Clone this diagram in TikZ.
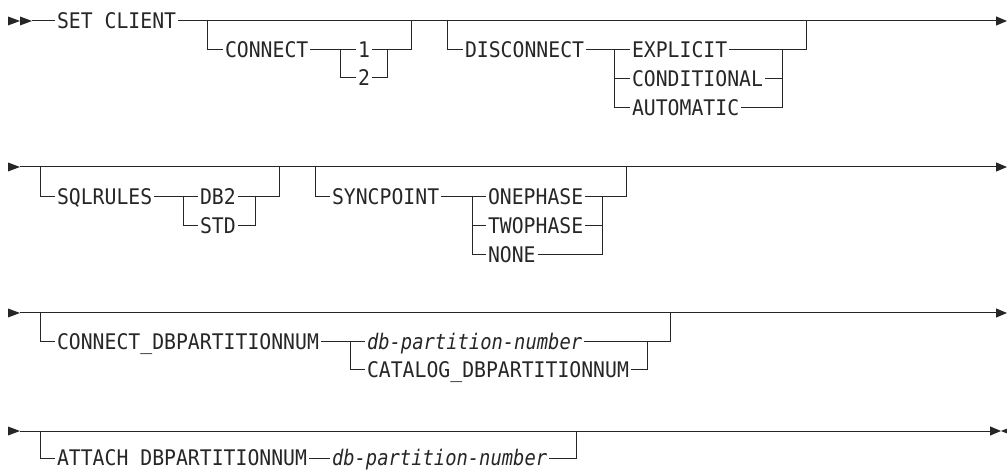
\documentclass[tikz,border=0pt]{standalone}
\usepackage{fontspec}
\usepackage{tikz}
\usetikzlibrary{arrows.meta, positioning, calc}
\newfontfamily\railfont[FakeStretch=0.92]{DejaVu Sans Mono}
\newfontfamily\railvarfont[FakeStretch=0.875]{DejaVu Sans Mono}
\definecolor{cRail}{RGB}{38,38,38}
\tikzset{
	rail/.style   ={draw=cRail, line width=1pt},
	railend/.style={rail, -{Triangle[length=11pt, width=9pt]}},
	kw/.style     ={anchor=west, inner xsep=2pt, inner ysep=0pt, outer sep=0pt, text height=15.7pt, text depth=0pt, text=cRail, font=\railfont\fontsize{21.5pt}{24pt}\selectfont},
	var/.style    ={kw, font=\railvarfont\itshape\fontsize{21.5pt}{24pt}\selectfont},
}

\begin{document}
\begin{tikzpicture}[x=1pt, y=-1pt]
	\useasboundingbox (0,0) rectangle (1007,470);

	% row 1: SET CLIENT, CONNECT, DISCONNECT
	\fill[cRail] (8,16.5) -- (20,21) -- (8,25.5) -- cycle;
	\fill[cRail] (20,16.5) -- (32,21) -- (20,25.5) -- cycle;
	\coordinate (s1) at (32,21);
	\coordinate (e1) at (1007,21);
	\node[kw] (setclient) at (55,21) {SET CLIENT};
	\draw[rail] (s1) -- (setclient.west);
	\draw[railend] (setclient.east) -- (e1);

	\coordinate (j1) at (207,21);
	\coordinate (j2) at (411,21);
	\coordinate (k1) at (340,50);
	\coordinate (k2) at (387,50);
	\node[kw] (connect) at (223,50) {CONNECT};
	\draw[rail] (j1) |- (connect.west);
	\draw[rail] (connect.east) -- (k1);
	\foreach \n/\lab/\yy in {one/1/50, two/2/78} {
		\node[kw] (\n) at (356,\yy) {\lab};
		\draw[rail] (k1) |- (\n.west);
		\draw[rail] (\n.east) -| (k2);
	}
	\draw[rail] (k2) -| (j2);

	\coordinate (j3) at (447,21);
	\coordinate (j4) at (806,21);
	\coordinate (k3) at (614,50);
	\coordinate (k4) at (782,50);
	\node[kw] (disconnect) at (463,50) {DISCONNECT};
	\draw[rail] (j3) |- (disconnect.west);
	\draw[rail] (disconnect.east) -- (k3);
	\foreach \n/\lab/\yy in {explicit/EXPLICIT/50, conditional/CONDITIONAL/79, automatic/AUTOMATIC/108} {
		\node[kw] (\n) at (630,\yy) {\lab};
		\draw[rail] (k3) |- (\n.west);
		\draw[rail] (\n.east) -| (k4);
	}
	\draw[rail] (k4) -| (j4);

	% row 2: SQLRULES, SYNCPOINT
	\fill[cRail] (8,162.5) -- (20,167) -- (8,171.5) -- cycle;
	\coordinate (s2) at (20,167);
	\coordinate (e2) at (1007,167);
	\draw[railend] (s2) -- (e2);

	\coordinate (j5) at (40,167);
	\coordinate (j6) at (279,167);
	\coordinate (k5) at (183,197);
	\coordinate (k6) at (255,197);
	\node[kw] (sqlrules) at (55,197) {SQLRULES};
	\draw[rail] (j5) |- (sqlrules.west);
	\draw[rail] (sqlrules.east) -- (k5);
	\foreach \n/\lab/\yy in {db2/DB2/197, std/STD/226} {
		\node[kw] (\n) at (198,\yy) {\lab};
		\draw[rail] (k5) |- (\n.west);
		\draw[rail] (\n.east) -| (k6);
	}
	\draw[rail] (k6) -| (j6);

	\coordinate (j7) at (315,167);
	\coordinate (j8) at (626,167);
	\coordinate (k7) at (472,197);
	\coordinate (k8) at (602,197);
	\node[kw] (syncpoint) at (330,197) {SYNCPOINT};
	\draw[rail] (j7) |- (syncpoint.west);
	\draw[rail] (syncpoint.east) -- (k7);
	\foreach \n/\lab/\yy in {onephase/ONEPHASE/197, twophase/TWOPHASE/226, none/NONE/255} {
		\node[kw] (\n) at (486,\yy) {\lab};
		\draw[rail] (k7) |- (\n.west);
		\draw[rail] (\n.east) -| (k8);
	}
	\draw[rail] (k8) -| (j8);

	% row 3: CONNECT_DBPARTITIONNUM
	\fill[cRail] (8,308.5) -- (20,313) -- (8,317.5) -- cycle;
	\coordinate (s3) at (20,313);
	\coordinate (e3) at (1007,313);
	\draw[railend] (s3) -- (e3);

	\coordinate (j9) at (40,313);
	\coordinate (j10) at (670,313);
	\coordinate (k9) at (350,342);
	\coordinate (k10) at (647,342);
	\node[kw] (cdpn) at (55,342) {CONNECT\_DBPARTITIONNUM};
	\draw[rail] (j9) |- (cdpn.west);
	\draw[rail] (cdpn.east) -- (k9);
	\node[var] (dpnum) at (365,342) {db-partition-number};
	\node[kw] (catalog) at (365,370) {CATALOG\_DBPARTITIONNUM};
	\foreach \n in {dpnum, catalog} {
		\draw[rail] (k9) |- (\n.west);
		\draw[rail] (\n.east) -| (k10);
	}
	\draw[rail] (k10) -| (j10);

	% row 4: ATTACH DBPARTITIONNUM
	\fill[cRail] (8,426.5) -- (20,431) -- (8,435.5) -- cycle;
	\coordinate (s4) at (20,431);
	\coordinate (e4) at (1001,431);
	\draw[railend] (s4) -- (e4);
	\fill[cRail] (1012,426.5) -- (1001,431) -- (1012,435.5) -- cycle;

	\coordinate (j11) at (40,431);
	\coordinate (j12) at (576,431);
	\node[kw] (attach) at (55,458) {ATTACH DBPARTITIONNUM};
	\node[var] (apnum) at (330,458) {db-partition-number};
	\draw[rail] (j11) |- (attach.west);
	\draw[rail] (attach.east) -- (apnum.west);
	\draw[rail] (apnum.east) -| (j12);
\end{tikzpicture}
\end{document}
